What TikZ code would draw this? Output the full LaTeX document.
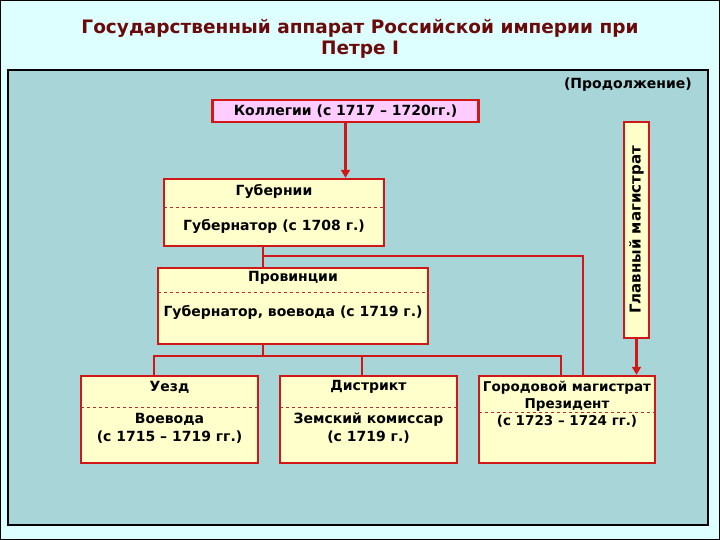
\documentclass[tikz,border=0pt]{standalone}
\usepackage{fontspec}
\setmainfont{DejaVu Sans}
\usetikzlibrary{arrows.meta}
\definecolor{bgc}{HTML}{DDFFFF}
\definecolor{panel}{HTML}{A7D5D8}
\definecolor{titlec}{HTML}{6B0A0A}
\definecolor{redl}{HTML}{D01818}
\definecolor{boxy}{HTML}{FFFFCC}
\definecolor{pinkb}{HTML}{FFCCFF}
\definecolor{dashc}{HTML}{B03030}
\begin{document}
\begin{tikzpicture}[x=1pt,y=-1pt,
  box/.style={draw=redl,line width=2.4pt,fill=boxy,rectangle,inner sep=0pt},
  txt/.style={font=\fontsize{14}{18}\selectfont\bfseries,align=center,inner sep=0pt},
  conn/.style={draw=redl,line width=2.4pt},
  arr/.style={draw=redl,line width=2.4pt,-{Triangle[length=8pt,width=9pt]}},
  sep/.style={draw=dashc,dashed,line width=0.8pt}]
\useasboundingbox (0,0) rectangle (720,540);
\fill[bgc] (0,0) rectangle (720,540);
\draw[black,line width=1.2pt] (0.6,0.6) rectangle (719.4,539.4);
% title
\node[font=\fontsize{18.5}{20.5}\selectfont\bfseries,text=titlec,align=center] (title) at (360,39) {Государственный аппарат Российской империи при\\Петре I};
% panel
\node[draw=black,fill=panel,line width=1.2pt,minimum width=700pt,minimum height=455pt,inner sep=0pt] (panelbox) at (358,297.5) {};
\node[txt,anchor=east] (cont) at (692,85) {(Продолжение)};
% boxes
\node[box,fill=pinkb,minimum width=266pt,minimum height=22pt] (kol) at (345.5,111) {};
\node[txt] (kolt) at (kol) {Коллегии (с 1717 – 1720гг.)};
\node[box,minimum width=220pt,minimum height=67pt] (gub) at (274,212.5) {};
\node[box,minimum width=270pt,minimum height=76pt] (prov) at (293,306) {};
\node[box,minimum width=177pt,minimum height=87pt] (uezd) at (169.5,419.5) {};
\node[box,minimum width=177pt,minimum height=87pt] (dist) at (368.5,419.5) {};
\node[box,minimum width=176pt,minimum height=87pt] (city) at (567,419.5) {};
\node[box,minimum width=25pt,minimum height=216pt] (glav) at (636.5,230) {};
\node[txt,font=\fontsize{15}{18}\selectfont\bfseries,rotate=90] (glavt) at (glav) {Главный магистрат};
% separators
\draw[sep] (164,207) -- (384,207);
\draw[sep] (158,292) -- (428,292);
\draw[sep] (81,407) -- (258,407);
\draw[sep] (280,407) -- (457,407);
\draw[sep] (479,412) -- (655,412);
% texts
\node[txt] (gubt1) at (274,191) {Губернии};
\node[txt] (gubt2) at (274,226) {Губернатор (с 1708 г.)};
\node[txt] (provt1) at (293,278) {Провинции};
\node[txt] (provt2) at (293,312) {Губернатор, воевода (с 1719 г.)};
\node[txt] (uezdt1) at (169.5,387) {Уезд};
\node[txt] (uezdt2) at (169.5,428) {Воевода\\(с 1715 – 1719 гг.)};
\node[txt] (distt1) at (368.5,387) {Дистрикт};
\node[txt] (distt2) at (368.5,428) {Земский комиссар\\(с 1719 г.)};
\node[txt,font=\fontsize{13.5}{17}\selectfont\bfseries] (cityt) at (567,404) {Городовой магистрат\\Президент\\(с 1723 – 1724 гг.)};
% connectors
\coordinate (j1) at (263,256);
\coordinate (j2) at (263,356);
\coordinate (j3) at (583,256);
\coordinate (j4) at (561,356);
\coordinate (j5) at (154,356);
\coordinate (j6) at (362,356);
\draw[arr] (kol.south) -- (kol.south |- gub.north);
\draw[conn] (j1 |- gub.south) -- (j1 |- prov.north);
\draw[conn] (j1) -- (j3) -- (j3 |- city.north);
\draw[conn] (j2 |- prov.south) -- (j2);
\draw[conn] (j5 |- uezd.north) -- (j5) -- (j4) -- (j4 |- city.north);
\draw[conn] (j6) -- (j6 |- dist.north);
\draw[arr] (glav.south) -- (glav.south |- city.north);
\end{tikzpicture}
\end{document}
